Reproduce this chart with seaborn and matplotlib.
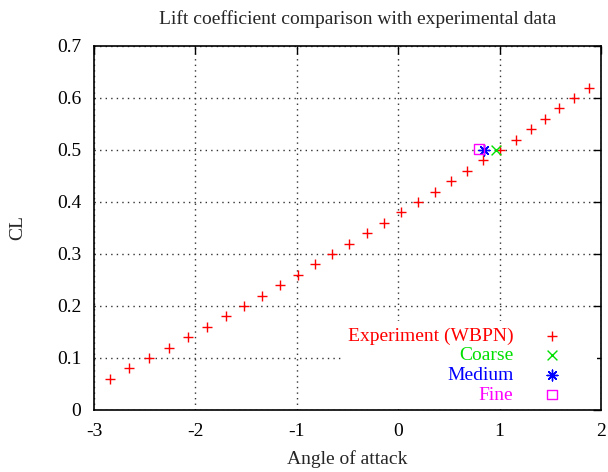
import matplotlib
matplotlib.use("Agg")
import matplotlib.pyplot as plt
import seaborn as sns
import pandas as pd

# Data
exp_alpha = [-2.84, -2.65, -2.46, -2.26, -2.07, -1.89, -1.70, -1.52, -1.34, -1.17,
             -0.99, -0.82, -0.65, -0.49, -0.31, -0.14, 0.03, 0.20, 0.36, 0.52,
             0.68, 0.84, 1.00, 1.16, 1.31, 1.45, 1.59, 1.73, 1.88]
exp_cl = [0.06, 0.08, 0.10, 0.12, 0.14, 0.16, 0.18, 0.20, 0.22, 0.24,
          0.26, 0.28, 0.30, 0.32, 0.34, 0.36, 0.38, 0.40, 0.42, 0.44,
          0.46, 0.48, 0.50, 0.52, 0.54, 0.56, 0.58, 0.60, 0.62]
coarse_alpha = [0.96]
coarse_cl = [0.50]
medium_alpha = [0.845]
medium_cl = [0.50]
fine_alpha = [0.80]
fine_cl = [0.502]

x_ticks = [-3, -2, -1, 0, 1, 2]
y_ticks = [0, 0.1, 0.2, 0.3, 0.4, 0.5, 0.6, 0.7]

sns.set_style("white")
plt.rcParams['font.family'] = ['Liberation Serif', 'DejaVu Serif']

fig = plt.figure(figsize=(6.08, 4.72), dpi=100)
ax = fig.add_axes([94/608, 1 - 410/472, (601-94)/608, (410-46)/472])

df_exp = pd.DataFrame({"alpha": exp_alpha, "cl": exp_cl})
df_c = pd.DataFrame({"alpha": coarse_alpha, "cl": coarse_cl})
df_m = pd.DataFrame({"alpha": medium_alpha, "cl": medium_cl})
df_f = pd.DataFrame({"alpha": fine_alpha, "cl": fine_cl})

sns.scatterplot(data=df_exp, x="alpha", y="cl", ax=ax, marker="+", color="#ff0000",
                s=60, linewidth=1.0, label="Experiment (WBPN)", zorder=3)
sns.scatterplot(data=df_c, x="alpha", y="cl", ax=ax, marker="x", color="#00e000",
                s=50, linewidth=1.0, label="Coarse", zorder=3)
sns.scatterplot(data=df_m, x="alpha", y="cl", ax=ax, marker=(8, 2, 0), color="#0000ff",
                s=60, linewidth=1.0, label="Medium", zorder=3)
sns.scatterplot(data=df_f, x="alpha", y="cl", ax=ax, marker="s", facecolor="none",
                edgecolor="#ff00ff", s=50, linewidth=1.0, label="Fine", zorder=3)

ax.set_xlim(-3, 2)
ax.set_ylim(0, 0.7)
ax.set_xticks(x_ticks)
ax.set_xticklabels([str(v) for v in x_ticks])
ax.set_yticks(y_ticks)
ax.set_yticklabels(["0"] + [f"{v:.1f}" for v in y_ticks[1:]])
ax.tick_params(direction="in", length=6, width=1.0, top=True, right=True,
               labelsize=14, pad=9, colors="black")
for s in ax.spines.values():
    s.set_visible(True)
    s.set_color("black")
    s.set_linewidth(1.2)
ax.grid(True, linestyle=(0, (1, 3)), color="#333333", linewidth=1.0)
ax.set_axisbelow(True)

ax.set_xlabel("Angle of attack", fontsize=14, labelpad=8)
ax.set_ylabel("CL", fontsize=14, labelpad=22)
ax.set_title("Lift coefficient comparison with experimental data", fontsize=14,
             pad=16, x=0.52)

leg = ax.legend(loc="lower right", bbox_to_anchor=(1.0, -0.009), markerfirst=False,
                frameon=True, fancybox=False, framealpha=1.0, facecolor="white",
                edgecolor="none", fontsize=14, handlelength=4.0, handletextpad=0.0,
                labelspacing=0.1, borderpad=0.3, borderaxespad=0.2)
colors = ["#ff0000", "#00e000", "#0000ff", "#ff00ff"]
for t, c in zip(leg.get_texts(), colors):
    t.set_color(c)

fig.savefig("out.png", dpi=100)
